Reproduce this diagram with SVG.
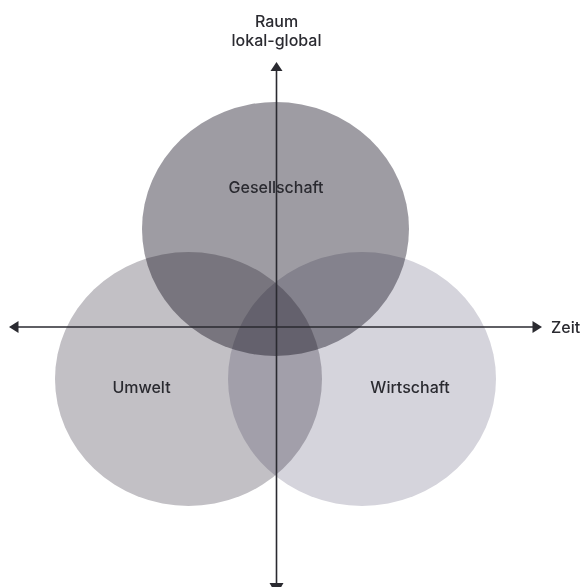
<svg xmlns="http://www.w3.org/2000/svg" width="584" height="587" viewBox="0 0 584 587">
  <style>
    .lbl { font-family: Inter, "Liberation Sans", sans-serif; font-size: 16px; font-weight: 500; fill: #2a2a30; text-anchor: middle; }
    .set { mix-blend-mode: multiply; }
    .axis { stroke: #2a2a30; stroke-width: 1.6; fill: none; }
    .head { fill: #2a2a30; }
  </style>
  <rect width="584" height="587" fill="#ffffff"/>
  <g id="umwelt">
    <ellipse class="set" cx="188.5" cy="379" rx="133.5" ry="127" fill="#c2c0c5"/>
    <text class="lbl" x="141.5" y="393">Umwelt</text>
  </g>
  <g id="wirtschaft">
    <ellipse class="set" cx="362" cy="379" rx="134" ry="127" fill="#d5d4dc"/>
    <text class="lbl" x="410" y="393">Wirtschaft</text>
  </g>
  <g id="gesellschaft">
    <ellipse class="set" cx="275.5" cy="229" rx="133.5" ry="127" fill="#9e9ca3"/>
    <text class="lbl" x="276" y="193">Gesellschaft</text>
  </g>
  <g id="connectors">
    <line class="axis" x1="276.5" y1="70" x2="276.5" y2="585"/>
    <polygon class="head" points="276.5,62 270.5,71 282.5,71"/>
    <polygon class="head" points="269.5,583 283.5,583 276.5,595"/>
    <line class="axis" x1="17" y1="327" x2="534" y2="327"/>
    <polygon class="head" points="9,327 18.5,321 18.5,333"/>
    <polygon class="head" points="542,327 532.5,321 532.5,333"/>
  </g>
  <g id="axis-labels">
    <text class="lbl" x="276.5" y="27">Raum</text>
    <text class="lbl" x="276.5" y="46">lokal-global</text>
    <text class="lbl" x="551" y="333" style="text-anchor:start">Zeit</text>
  </g>
</svg>
